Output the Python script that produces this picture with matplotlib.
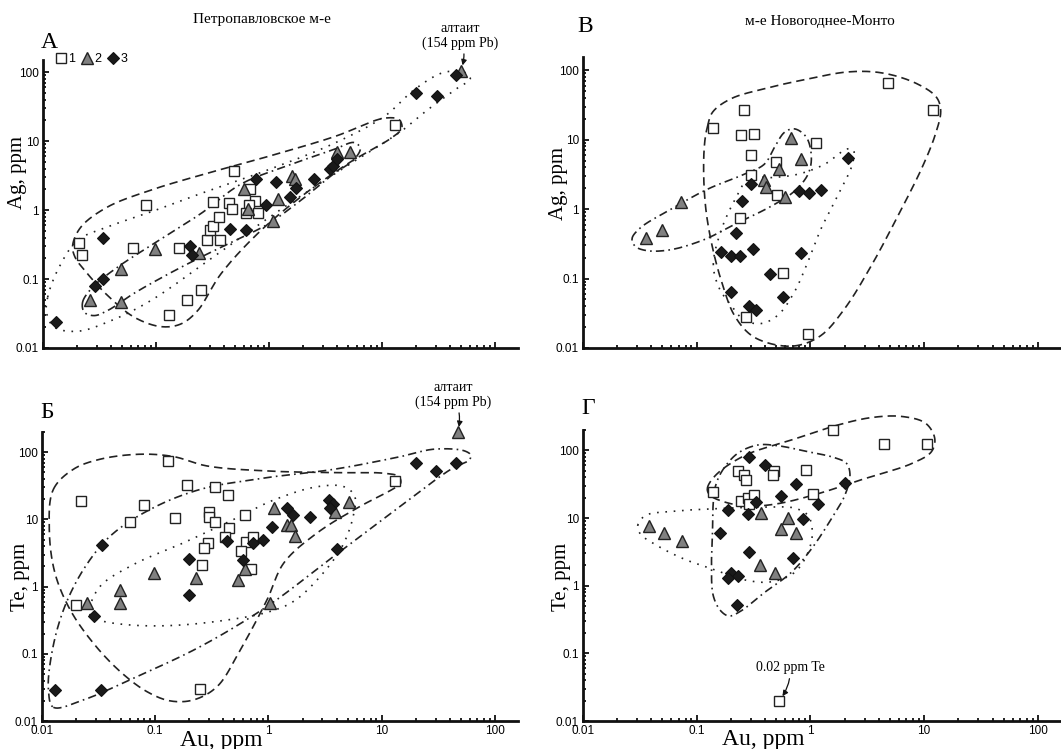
import numpy as np
import matplotlib
matplotlib.use('Agg')
import matplotlib.pyplot as plt
from matplotlib.lines import Line2D
from matplotlib.ticker import LogLocator, NullFormatter

# ---- data: Петропавловское, Ag vs Au (panel А) ----
PETRO_AG_SQ_AU = [0.021, 0.022, 0.062, 0.082, 0.16, 0.13, 0.19, 0.25, 0.28, 0.37, 0.30, 0.32,
                  0.36, 0.32, 0.44, 0.47, 0.49, 0.68, 0.75, 0.66, 0.63, 0.80, 13]
PETRO_AG_SQ_AG = [0.33, 0.22, 0.28, 1.2, 0.28, 0.03, 0.05, 0.07, 0.37, 0.37, 0.52, 0.58,
                  0.8, 1.3, 1.25, 1.05, 3.7, 2.0, 1.35, 1.2, 0.9, 0.9, 17]
PETRO_AG_TR_AU = [0.026, 0.049, 0.049, 0.098, 0.24, 0.60, 0.65, 1.08, 1.2, 1.6, 1.7, 4.0, 5.2, 50]
PETRO_AG_TR_AG = [0.05, 0.14, 0.046, 0.27, 0.24, 2.0, 1.05, 0.7, 1.45, 3.1, 2.8, 7.0, 7.0, 105]
PETRO_AG_DI_AU = [0.013, 0.029, 0.034, 0.034, 0.20, 0.21, 0.45, 0.63, 0.77, 0.95, 1.15, 1.55,
                  1.75, 2.5, 3.5, 3.7, 4.0, 20, 31, 45]
PETRO_AG_DI_AG = [0.024, 0.08, 0.10, 0.40, 0.30, 0.22, 0.54, 0.52, 2.8, 1.2, 2.55, 1.55,
                  2.1, 2.8, 3.9, 4.3, 5.5, 50, 45, 90]

# ---- data: Петропавловское, Te vs Au (panel Б) ----
PETRO_TE_SQ_AU = [0.13, 0.022, 0.02, 0.06, 0.08, 0.15, 0.19, 0.34, 0.44, 0.30, 0.30, 0.34,
                  0.45, 0.41, 0.29, 0.27, 0.26, 0.25, 0.62, 0.63, 0.57, 0.73, 0.70, 13]
PETRO_TE_SQ_TE = [74, 19, 0.54, 9.3, 16.5, 10.4, 33, 30, 23, 13, 11, 9,
                  7.5, 5.5, 4.5, 3.7, 2.1, 0.03, 11.5, 4.6, 3.4, 5.5, 1.85, 37]
PETRO_TE_TR_AU = [0.025, 0.049, 0.049, 0.097, 0.23, 0.54, 0.62, 1.04, 1.13, 1.45, 1.57, 1.7, 3.9, 5.1, 47]
PETRO_TE_TR_TE = [0.57, 0.9, 0.57, 1.6, 1.35, 1.25, 1.8, 0.57, 15, 8.4, 8.4, 5.6, 13, 18, 197]
PETRO_TE_DI_AU = [0.013, 0.033, 0.034, 0.029, 0.20, 0.20, 0.43, 0.60, 0.73, 0.90, 1.08, 1.46,
                  1.65, 2.35, 3.4, 3.7, 3.5, 4.0, 20, 30, 45]
PETRO_TE_DI_TE = [0.029, 0.029, 4.2, 0.37, 0.75, 2.6, 4.7, 2.5, 4.4, 5.0, 7.7, 15,
                  11.5, 11, 19.5, 17, 15, 3.6, 70, 52, 70]

# ---- data: Новогоднее-Монто, Ag vs Au (panel В) ----
NOVO_AG_SQ_AU = [0.14, 0.26, 0.245, 0.32, 0.30, 0.30, 0.50, 0.51, 0.24, 0.57, 0.27, 0.95, 1.13, 4.8, 12]
NOVO_AG_SQ_AG = [14.5, 27, 11.5, 12, 6, 3.1, 4.8, 1.6, 0.74, 0.12, 0.028, 0.016, 9, 65, 27]
NOVO_AG_TR_AU = [0.036, 0.05, 0.073, 0.68, 0.82, 0.53, 0.39, 0.41, 0.60]
NOVO_AG_TR_AG = [0.38, 0.5, 1.25, 10.5, 5.2, 3.8, 2.6, 2.1, 1.5]
NOVO_AG_DI_AU = [0.30, 0.25, 0.22, 0.165, 0.20, 0.24, 0.31, 0.44, 0.20, 0.29, 0.33, 0.58,
                 0.82, 0.80, 0.98, 1.25, 2.15]
NOVO_AG_DI_AG = [2.3, 1.3, 0.45, 0.24, 0.21, 0.21, 0.27, 0.115, 0.063, 0.04, 0.035, 0.055,
                 0.23, 1.8, 1.7, 1.9, 5.5]

# ---- data: Новогоднее-Монто, Te vs Au (panel Г) ----
NOVO_TE_SQ_AU = [0.14, 0.23, 0.26, 0.27, 0.48, 0.47, 0.92, 0.245, 0.28, 0.32, 0.29, 1.06, 1.57, 4.4, 10.6, 0.53]
NOVO_TE_SQ_TE = [24, 50, 43, 37, 50, 43, 52, 18, 20, 22, 16, 23, 200, 125, 125, 0.02]
NOVO_TE_TR_AU = [0.038, 0.052, 0.074, 0.37, 0.63, 0.55, 0.74, 0.36, 0.49]
NOVO_TE_TR_TE = [7.5, 6, 4.6, 12, 10, 7, 6, 2, 1.55]
NOVO_TE_DI_AU = [0.29, 0.40, 0.74, 2.0, 0.55, 0.33, 1.17, 0.19, 0.28, 0.86, 0.16, 0.29,
                 0.71, 0.20, 0.23, 0.19, 0.225]
NOVO_TE_DI_TE = [80, 60, 32, 33, 21, 17, 16, 13, 11.5, 9.6, 6, 3.1,
                 2.6, 1.55, 1.4, 1.3, 0.52]

# ---- hand-drawn field outlines (Au, second element) ----
PETRO_AG_DASHED = [(0.0183, 0.308), (0.0217, 0.570), (0.0373, 1.11), (0.0903, 1.95), (0.250, 3.22),
                   (0.973, 5.96), (3.79, 11.6), (10.5, 21.5), (14.2, 20.4), (15.0, 15.4), (12.4, 11.4),
                   (5.32, 5.04), (1.92, 1.56), (0.794, 0.456), (0.376, 0.119), (0.234, 0.0349),
                   (0.166, 0.0223), (0.111, 0.0204), (0.0643, 0.0279), (0.0373, 0.0577),
                   (0.0248, 0.119), (0.0192, 0.208)]
PETRO_AG_DOTTED = [(0.0110, 0.0546), (0.0139, 0.149), (0.0203, 0.365), (0.0373, 0.570), (0.0903, 0.942),
                   (0.250, 1.74), (0.973, 3.81), (3.79, 9.31), (10.5, 22.8), (19.3, 55.6), (35.6, 99.5),
                   (55.4, 97.3), (60.5, 79.5), (46.7, 58.9), (25.4, 28.5), (14.7, 13.8), (5.32, 4.76),
                   (1.37, 1.11), (0.352, 0.233), (0.0903, 0.0489), (0.040, 0.0249), (0.0203, 0.0175),
                   (0.0126, 0.0200), (0.0108, 0.0312)]
PETRO_AG_DASHDOT = [(0.0224, 0.0461), (0.0275, 0.0762), (0.0458, 0.149), (0.0903, 0.308), (0.250, 0.891),
                    (0.565, 2.38), (1.46, 4.40), (3.79, 7.61), (5.69, 9.53), (6.43, 7.87), (5.69, 5.45),
                    (3.79, 3.41), (1.92, 1.39), (0.973, 0.624), (0.493, 0.357), (0.250, 0.208),
                    (0.127, 0.117), (0.0643, 0.0624), (0.0373, 0.0349), (0.0284, 0.0295), (0.0232, 0.033)]

PETRO_TE_DASHED = [(0.0126, 28.0), (0.0189, 55.7), (0.0326, 78.7), (0.0737, 93.4), (0.145, 86.1),
                   (0.286, 62.5), (0.973, 52.6), (3.79, 49.7), (10.5, 48.6), (14.2, 43.4), (14.7, 34.5),
                   (12.4, 28.0), (6.52, 15.8), (2.70, 6.32), (1.37, 2.26), (0.973, 0.640), (0.565, 0.115),
                   (0.352, 0.0325), (0.218, 0.0206), (0.136, 0.0199), (0.0843, 0.0274), (0.0490, 0.0545),
                   (0.0284, 0.144), (0.0177, 0.454), (0.0130, 1.60), (0.0116, 7.10)]
PETRO_TE_DASHDOT = [(0.0126, 0.016), (0.0232, 0.0206), (0.0643, 0.0434), (0.250, 0.128), (0.973, 0.508),
                    (3.79, 2.84), (14.7, 15.8), (40.8, 55.7), (59.3, 76.9), (61.4, 90.2), (53.6, 105),
                    (29.0, 111), (14.7, 86.1), (3.79, 55.7), (0.973, 41.9), (0.250, 28.0), (0.0903, 14.1),
                    (0.040, 5.64), (0.0232, 1.79), (0.0155, 0.454), (0.0122, 0.102), (0.0114, 0.029)]
PETRO_TE_DOTTED = [(0.0262, 0.465), (0.0326, 1.01), (0.0643, 2.13), (0.178, 4.49), (0.493, 10.0),
                   (1.11, 19.4), (2.70, 30.7), (4.64, 30.7), (5.77, 22.3), (5.61, 11.2), (4.49, 4.0),
                   (2.88, 1.43), (1.67, 0.604), (0.973, 0.414), (0.352, 0.304), (0.127, 0.262),
                   (0.0561, 0.271), (0.0326, 0.315), (0.0266, 0.382)]

NOVO_AG_DASHED = [(0.124, 15.1), (0.138, 24.9), (0.200, 38.8), (0.394, 54.2), (0.891, 73.2), (2.16, 94.6),
                  (4.25, 91.5), (8.38, 65.5), (12.8, 41.1), (14.0, 26.3), (12.6, 12.1), (9.6, 3.97),
                  (5.97, 0.837), (3.47, 0.158), (2.01, 0.0372), (1.25, 0.0153), (0.778, 0.0109),
                  (0.483, 0.0112), (0.301, 0.0153), (0.214, 0.0297), (0.169, 0.0809), (0.138, 0.275),
                  (0.120, 1.04), (0.115, 3.97), (0.118, 9.68)]
NOVO_AG_DASHDOT = [(0.027, 0.376), (0.0319, 0.536), (0.0589, 0.989), (0.124, 1.93), (0.262, 3.18),
                   (0.394, 4.44), (0.483, 7.74), (0.593, 12.8), (0.726, 14.3), (0.923, 10.8), (1.02, 5.55),
                   (0.953, 3.18), (0.726, 1.82), (0.452, 1.10), (0.229, 0.634), (0.116, 0.363),
                   (0.0589, 0.260), (0.0366, 0.252), (0.0288, 0.291)]
NOVO_AG_DOTTED = [(0.140, 0.158), (0.163, 0.480), (0.214, 1.31), (0.290, 2.78), (0.452, 2.84), (0.778, 3.18),
                  (1.34, 4.44), (2.08, 7.32), (2.39, 7.08), (2.34, 4.44), (1.76, 1.63), (1.25, 0.536),
                  (0.953, 0.176), (0.726, 0.0648), (0.518, 0.0297), (0.368, 0.0225), (0.262, 0.0252),
                  (0.200, 0.0415), (0.158, 0.0724)]

NOVO_TE_DASHED = [(0.124, 27.2), (0.147, 43.0), (0.262, 83.3), (0.679, 142), (1.76, 238), (3.47, 306),
                  (6.38, 317), (10.3, 252), (12.4, 151), (11.6, 95.5), (7.83, 64.1), (3.03, 38.4),
                  (1.17, 22.9), (0.518, 16.3), (0.281, 15.0), (0.175, 17.3), (0.131, 21.7)]
NOVO_TE_DASHDOT = [(0.140, 17.3), (0.138, 6.92), (0.135, 2.21), (0.140, 0.706), (0.163, 0.423),
                   (0.193, 0.356), (0.245, 0.423), (0.394, 0.791), (0.679, 1.57), (1.02, 3.49),
                   (1.53, 9.75), (2.01, 21.7), (2.23, 43.0), (2.08, 64.1), (1.64, 77.8), (0.953, 95.5),
                   (0.518, 117), (0.344, 120), (0.229, 90.2), (0.169, 51.0), (0.147, 30.5)]
NOVO_TE_DOTTED = [(0.0303, 7.76), (0.0354, 10.9), (0.0589, 12.5), (0.142, 13.7), (0.394, 14.5),
                  (0.726, 14.0), (0.953, 10.9), (1.04, 6.18), (0.953, 3.11), (0.726, 1.57),
                  (0.452, 1.14), (0.262, 1.22), (0.152, 1.66), (0.0773, 2.48), (0.0449, 3.91),
                  (0.0319, 5.83)]

DECADES = [0.01, 0.1, 1, 10, 100]
DECADE_LABELS = ['0.01', '0.1', '1', '10', '100']

SERIF = 'Liberation Serif'
SANS = 'Liberation Sans'

SQ = dict(marker='s', ms=7, mfc='white', mec='#222222', mew=1.0, ls='none')
TR = dict(marker='^', ms=8.5, mfc='#808080', mec='#222222', mew=1.0, ls='none')
DI = dict(marker='D', ms=6.5, mfc='#1a1a1a', mec='#111111', mew=0.8, ls='none')

DASHED = (0, (5, 3))
DOTTED = (0, (1, 4))
DASHDOT = (0, (5, 2.5, 1, 2.5))


def smooth_loop(pts, n=24, xscale=1.65):
    # closed centripetal Catmull-Rom outline, built in log space
    p = np.log10(np.asarray(pts, dtype=float))
    p[:, 0] *= xscale
    m = len(p)
    out = []
    for i in range(m):
        p0, p1, p2, p3 = p[i - 1], p[i], p[(i + 1) % m], p[(i + 2) % m]
        t0 = 0.0
        t1 = t0 + np.linalg.norm(p1 - p0) ** 0.5
        t2 = t1 + np.linalg.norm(p2 - p1) ** 0.5
        t3 = t2 + np.linalg.norm(p3 - p2) ** 0.5
        t = np.linspace(t1, t2, n, endpoint=False)[:, None]
        a1 = (t1 - t) / (t1 - t0) * p0 + (t - t0) / (t1 - t0) * p1
        a2 = (t2 - t) / (t2 - t1) * p1 + (t - t1) / (t2 - t1) * p2
        a3 = (t3 - t) / (t3 - t2) * p2 + (t - t2) / (t3 - t2) * p3
        b1 = (t2 - t) / (t2 - t0) * a1 + (t - t0) / (t2 - t0) * a2
        b2 = (t3 - t) / (t3 - t1) * a2 + (t - t1) / (t3 - t1) * a3
        out.append((t2 - t) / (t2 - t1) * b1 + (t - t1) / (t2 - t1) * b2)
    out = np.vstack(out + [out[0][:1]])
    out[:, 0] /= xscale
    return 10 ** out[:, 0], 10 ** out[:, 1]


def draw_loop(ax, pts, style):
    x, y = smooth_loop(pts)
    ax.plot(x, y, ls=style, color='#222222', lw=1.2, clip_on=False, zorder=2)


def setup(ax, ymax, xlabels=True):
    ax.set_xscale('log')
    ax.set_yscale('log')
    for s in ('top', 'right'):
        ax.spines[s].set_visible(False)
    for s in ('left', 'bottom'):
        ax.spines[s].set_linewidth(2.0)
        ax.spines[s].set_color('#111111')
    for axis in (ax.xaxis, ax.yaxis):
        axis.set_minor_locator(LogLocator(base=10, subs=np.arange(2, 10), numticks=12))
        axis.set_minor_formatter(NullFormatter())
    ax.set_xticks(DECADES)
    ax.set_xticklabels(DECADE_LABELS)
    ax.set_yticks(DECADES)
    ax.set_yticklabels(DECADE_LABELS)
    ax.set_xlim(0.01, 160)
    ax.set_ylim(0.01, ymax)
    ax.tick_params(which='both', direction='in', width=1.3, color='#111111', pad=3)
    ax.tick_params(which='major', length=4.5)
    ax.tick_params(which='minor', length=2.5)
    for lab in ax.get_xticklabels() + ax.get_yticklabels():
        lab.set_fontfamily(SANS)
        lab.set_fontsize(8.5)
    if not xlabels:
        ax.tick_params(labelbottom=False)


def scatter(ax, sq, tr, di):
    ax.plot(*sq, **SQ, zorder=3, clip_on=False)
    ax.plot(*tr, **TR, zorder=4, clip_on=False)
    ax.plot(*di, **DI, zorder=5, clip_on=False)


W, H = 1061, 749
fig = plt.figure(figsize=(W / 100, H / 100), dpi=100)


def px_axes(left, top, right, bottom):
    return fig.add_axes([left / W, 1 - bottom / H, (right - left) / W, (bottom - top) / H])


ax_a = px_axes(43, 60, 518, 348)
ax_v = px_axes(583, 57, 1061, 348)
ax_b = px_axes(42, 432, 518, 721)
ax_g = px_axes(583, 430, 1061, 721)

setup(ax_a, 150, xlabels=False)
setup(ax_v, 155, xlabels=False)
setup(ax_b, 200)
setup(ax_g, 200)

# panel А
draw_loop(ax_a, PETRO_AG_DASHED, DASHED)
draw_loop(ax_a, PETRO_AG_DOTTED, DOTTED)
draw_loop(ax_a, PETRO_AG_DASHDOT, DASHDOT)
scatter(ax_a, (PETRO_AG_SQ_AU, PETRO_AG_SQ_AG), (PETRO_AG_TR_AU, PETRO_AG_TR_AG),
        (PETRO_AG_DI_AU, PETRO_AG_DI_AG))

# panel В
draw_loop(ax_v, NOVO_AG_DASHED, DASHED)
draw_loop(ax_v, NOVO_AG_DASHDOT, DASHDOT)
draw_loop(ax_v, NOVO_AG_DOTTED, DOTTED)
scatter(ax_v, (NOVO_AG_SQ_AU, NOVO_AG_SQ_AG), (NOVO_AG_TR_AU, NOVO_AG_TR_AG),
        (NOVO_AG_DI_AU, NOVO_AG_DI_AG))

# panel Б
draw_loop(ax_b, PETRO_TE_DASHED, DASHED)
draw_loop(ax_b, PETRO_TE_DASHDOT, DASHDOT)
draw_loop(ax_b, PETRO_TE_DOTTED, DOTTED)
scatter(ax_b, (PETRO_TE_SQ_AU, PETRO_TE_SQ_TE), (PETRO_TE_TR_AU, PETRO_TE_TR_TE),
        (PETRO_TE_DI_AU, PETRO_TE_DI_TE))

# panel Г
draw_loop(ax_g, NOVO_TE_DASHED, DASHED)
draw_loop(ax_g, NOVO_TE_DASHDOT, DASHDOT)
draw_loop(ax_g, NOVO_TE_DOTTED, DOTTED)
scatter(ax_g, (NOVO_TE_SQ_AU, NOVO_TE_SQ_TE), (NOVO_TE_TR_AU, NOVO_TE_TR_TE),
        (NOVO_TE_DI_AU, NOVO_TE_DI_TE))

# axis titles
for ax, txt, x, y in [(ax_a, 'Ag, ppm', -0.054, 0.608), (ax_v, 'Ag, ppm', -0.052, 0.567),
                      (ax_b, 'Te, ppm', -0.046, 0.498), (ax_g, 'Te, ppm', -0.046, 0.495)]:
    ax.text(x, y, txt, transform=ax.transAxes, rotation=90, ha='center', va='center',
            fontsize=15, family=SERIF)
ax_b.text(0.377, -0.066, 'Au, ppm', transform=ax_b.transAxes, ha='center', va='center',
          fontsize=17, family=SERIF)
ax_g.text(0.377, -0.064, 'Au, ppm', transform=ax_g.transAxes, ha='center', va='center',
          fontsize=17, family=SERIF)

# panel letters and deposit names
for txt, x, y in [('А', 49, 42), ('В', 585, 27), ('Б', 47, 412), ('Г', 588, 408)]:
    fig.text(x / W, 1 - y / H, txt, ha='center', va='center', fontsize=17, family=SERIF)
fig.text(262 / W, 1 - 20 / H, 'Петропавловское м-е', ha='center', va='center', fontsize=11, family=SERIF)
fig.text(820 / W, 1 - 22 / H, 'м-е Новогоднее-Монто', ha='center', va='center', fontsize=11, family=SERIF)

# legend
handles = [Line2D([], [], **SQ), Line2D([], [], **TR), Line2D([], [], **DI)]
ax_a.legend(handles, ['1', '2', '3'], ncol=3, loc='center left',
            bbox_to_anchor=(55 / W, 1 - 59 / H), bbox_transform=fig.transFigure,
            frameon=False, handlelength=0.9, handletextpad=0.15, columnspacing=0.5,
            borderpad=0, borderaxespad=0, numpoints=1, prop={'family': SANS, 'size': 9})

# annotations
arrow = dict(arrowstyle='-|>', lw=0.9, color='#111111', mutation_scale=8, shrinkA=1, shrinkB=4,
             connectionstyle='arc3,rad=-0.2')
ax_a.annotate('алтаит\n(154 ppm Pb)', xy=(PETRO_AG_TR_AU[-1], PETRO_AG_TR_AG[-1]),
              xytext=(460, H - 36), textcoords='figure pixels', ha='center', va='center',
              fontsize=10, family=SERIF, linespacing=1.1, arrowprops=arrow, annotation_clip=False)
ax_b.annotate('алтаит\n(154 ppm Pb)', xy=(PETRO_TE_TR_AU[-1], PETRO_TE_TR_TE[-1]),
              xytext=(453, H - 395), textcoords='figure pixels', ha='center', va='center',
              fontsize=10, family=SERIF, linespacing=1.1, arrowprops=arrow, annotation_clip=False)
ax_g.annotate('0.02 ppm Te', xy=(NOVO_TE_SQ_AU[-1], NOVO_TE_SQ_TE[-1]),
              xytext=(790, H - 668), textcoords='figure pixels', ha='center', va='center',
              fontsize=10, family=SERIF, arrowprops=arrow, annotation_clip=False)

fig.savefig('out.png', dpi=100)
